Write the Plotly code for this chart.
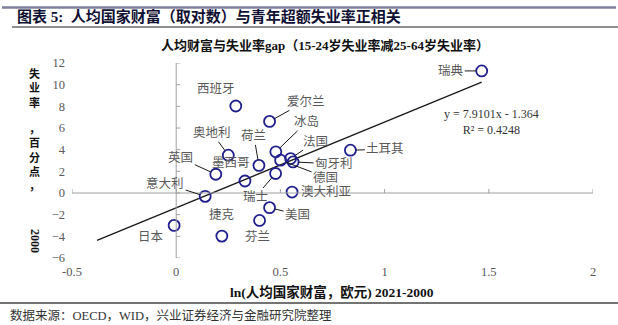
import plotly.graph_objects as go

# ---------------- data ----------------
countries = ["瑞典", "西班牙", "爱尔兰", "冰岛", "法国", "匈牙利", "德国", "土耳其",
             "奥地利", "荷兰", "英国", "墨西哥", "瑞士", "意大利", "澳大利亚",
             "美国", "芬兰", "捷克", "日本"]
wealth_ln = [1.466, 0.286, 0.448, 0.478, 0.549, 0.561, 0.501, 0.836,
             0.250, 0.397, 0.190, 0.330, 0.477, 0.139, 0.556,
             0.448, 0.400, 0.219, -0.010]
unemp_gap = [11.27, 8.03, 6.61, 3.80, 3.18, 2.87, 3.03, 3.95,
             3.49, 2.55, 1.73, 1.11, 1.80, -0.31, 0.09,
             -1.35, -2.53, -3.98, -2.99]
slope, intercept, r2 = 7.9101, -1.364, 0.4248
trend_x = [-0.38, 1.466]
x_ticks = [-0.5, 0, 0.5, 1, 1.5, 2]
x_tick_text = ["-0.5", "0", "0.5", "1", "1.5", "2"]
y_ticks = [-6, -4, -2, 0, 2, 4, 6, 8, 10, 12]

# ---------------- styles / label placement ----------------
SERIF = "Liberation Serif, Times New Roman, Noto Sans CJK SC, serif"
CJK_BOLD = "Liberation Serif, Noto Sans CJK SC, serif"
MARK = "#20208C"
GRAY = "#595959"
AXIS = "#A0A0A0"
# (dx, dy, leader?) pixel offsets of label centre from the point
label_pos = {
    "瑞典": (-31, 0, True), "西班牙": (-20, -17, False), "爱尔兰": (36, -20, True),
    "冰岛": (31, -30, True), "法国": (25, -17, True), "匈牙利": (41, 2, True),
    "德国": (45, 17, True), "土耳其": (35, -1, True), "奥地利": (-16, -22, True),
    "荷兰": (-5, -29, True), "英国": (-35, -16, True), "墨西哥": (-14, -18, False),
    "瑞士": (-20, 23, True), "意大利": (-40, -13, True), "澳大利亚": (34, 0, False),
    "美国": (28, 7, True), "芬兰": (-2, 17, False), "捷克": (0, -21, False),
    "日本": (-23, 12, False),
}

fig = go.Figure()

trend_y = [slope * v + intercept for v in trend_x]
fig.add_trace(go.Scatter(x=trend_x, y=trend_y, mode="lines",
                         line=dict(color="#1a1a1a", width=1.3),
                         hoverinfo="skip", showlegend=False))
fig.add_trace(go.Scatter(x=wealth_ln, y=unemp_gap, mode="markers",
                         marker=dict(symbol="circle-open", size=11,
                                     line=dict(color=MARK, width=1.8), color=MARK),
                         text=countries, showlegend=False))

annotations = []
for name, xv, yv in zip(countries, wealth_ln, unemp_gap):
    dx, dy, leader = label_pos[name]
    if leader:
        annotations.append(dict(x=xv, y=yv, xref="x", yref="y", text=name,
                                showarrow=True, ax=dx, ay=dy, axref="pixel", ayref="pixel",
                                arrowhead=0, arrowwidth=1, arrowcolor="#1a1a1a",
                                standoff=5.5, startstandoff=0,
                                font=dict(family=SERIF, size=12.5, color=GRAY)))
    else:
        annotations.append(dict(x=xv, y=yv, xref="x", yref="y", text=name,
                                showarrow=False, xshift=dx, yshift=-dy,
                                font=dict(family=SERIF, size=12.5, color=GRAY)))

# regression equation
annotations.append(dict(x=1.512, y=6.6, xref="x", yref="y",
                        text=f"y = {slope}x - {abs(intercept)}<br>R² = {r2}",
                        showarrow=False, align="center",
                        font=dict(family=SERIF, size=12, color="#333333")))

# page texts (paper coords; plot area 72..593 x 63..258 px)
def px(xp):
    return (xp - 72) / 521
def py(yp):
    return (258 - yp) / 195

annotations += [
    dict(x=px(15), y=py(17), xref="paper", yref="paper", xanchor="left", yanchor="middle",
         text="<b>图表 5:  人均国家财富（取对数）与青年超额失业率正相关</b>", showarrow=False,
         font=dict(family=CJK_BOLD, size=15, color="#111133")),
    dict(x=px(325), y=py(45), xref="paper", yref="paper", xanchor="center", yanchor="middle",
         text="<b>人均财富与失业率gap（15-24岁失业率减25-64岁失业率）</b>", showarrow=False,
         font=dict(family=CJK_BOLD, size=13, color="#111111")),
    dict(x=px(332), y=py(292), xref="paper", yref="paper", xanchor="center", yanchor="middle",
         text="<b>ln(人均国家财富，欧元) 2021-2000</b>", showarrow=False,
         font=dict(family=CJK_BOLD, size=13.5, color="#111111")),
    dict(x=px(8), y=py(315), xref="paper", yref="paper", xanchor="left", yanchor="middle",
         text="数据来源：OECD，WID，兴业证券经济与金融研究院整理", showarrow=False,
         font=dict(family=SERIF, size=12.5, color="#333333")),
    dict(x=px(35), y=py(241), xref="paper", yref="paper", xanchor="center", yanchor="middle",
         text="<b>2000</b>", textangle=90, showarrow=False,
         font=dict(family=CJK_BOLD, size=12, color="#111111")),
    # stacked vertical y-axis title
    dict(x=px(34), y=py(88), xref="paper", yref="paper", xanchor="center", yanchor="middle",
         text="<b>失<br>业<br>率</b>", showarrow=False,
         font=dict(family=CJK_BOLD, size=11, color="#111111")),
    dict(x=px(34), y=py(157), xref="paper", yref="paper", xanchor="center", yanchor="middle",
         text="<b>，<br>百<br>分<br>点<br>，</b>", showarrow=False,
         font=dict(family=CJK_BOLD, size=11, color="#111111")),
]

shapes = [
    # page rules
    dict(type="line", xref="paper", yref="paper", x0=px(2), x1=px(616), y0=py(7.5), y1=py(7.5),
         line=dict(color="#7F7F9E", width=2.5)),
    dict(type="line", xref="paper", yref="paper", x0=px(12), x1=px(618), y0=py(27), y1=py(27),
         line=dict(color="#222222", width=1.2)),
    dict(type="line", xref="paper", yref="paper", x0=px(0), x1=px(618), y0=py(303), y1=py(303),
         line=dict(color="#444444", width=1.5)),
    # axis lines through the origin
    dict(type="line", xref="x", yref="y", x0=0, x1=0, y0=min(y_ticks), y1=max(y_ticks),
         line=dict(color=AXIS, width=1)),
    dict(type="line", xref="x", yref="y", x0=min(x_ticks), x1=max(x_ticks), y0=0, y1=0,
         line=dict(color=AXIS, width=1)),
]
for yt in y_ticks:
    shapes.append(dict(type="line", xref="x", yref="y", xsizemode="pixel", xanchor=0,
                       x0=0, x1=4, y0=yt, y1=yt, line=dict(color=AXIS, width=1)))
for xt in x_ticks:
    shapes.append(dict(type="line", xref="x", yref="y", ysizemode="pixel", yanchor=0,
                       y0=0, y1=4, x0=xt, x1=xt, line=dict(color=AXIS, width=1)))

fig.update_layout(
    width=618, height=325,
    margin=dict(l=72, r=25, t=63, b=67),
    paper_bgcolor="white", plot_bgcolor="white",
    showlegend=False,
    annotations=annotations, shapes=shapes,
    xaxis=dict(range=[-0.5, 2], tickvals=x_ticks, ticktext=x_tick_text,
               showgrid=False, zeroline=False, showline=False, ticks="",
               ticklabelstandoff=4,
               tickfont=dict(family=SERIF, size=12.5, color=GRAY)),
    yaxis=dict(range=[-6, 12], tickvals=y_ticks,
               showgrid=False, zeroline=False, showline=False, ticks="",
               ticklabelstandoff=6,
               tickfont=dict(family=SERIF, size=12.5, color=GRAY)),
)

fig.write_html("out.html")
